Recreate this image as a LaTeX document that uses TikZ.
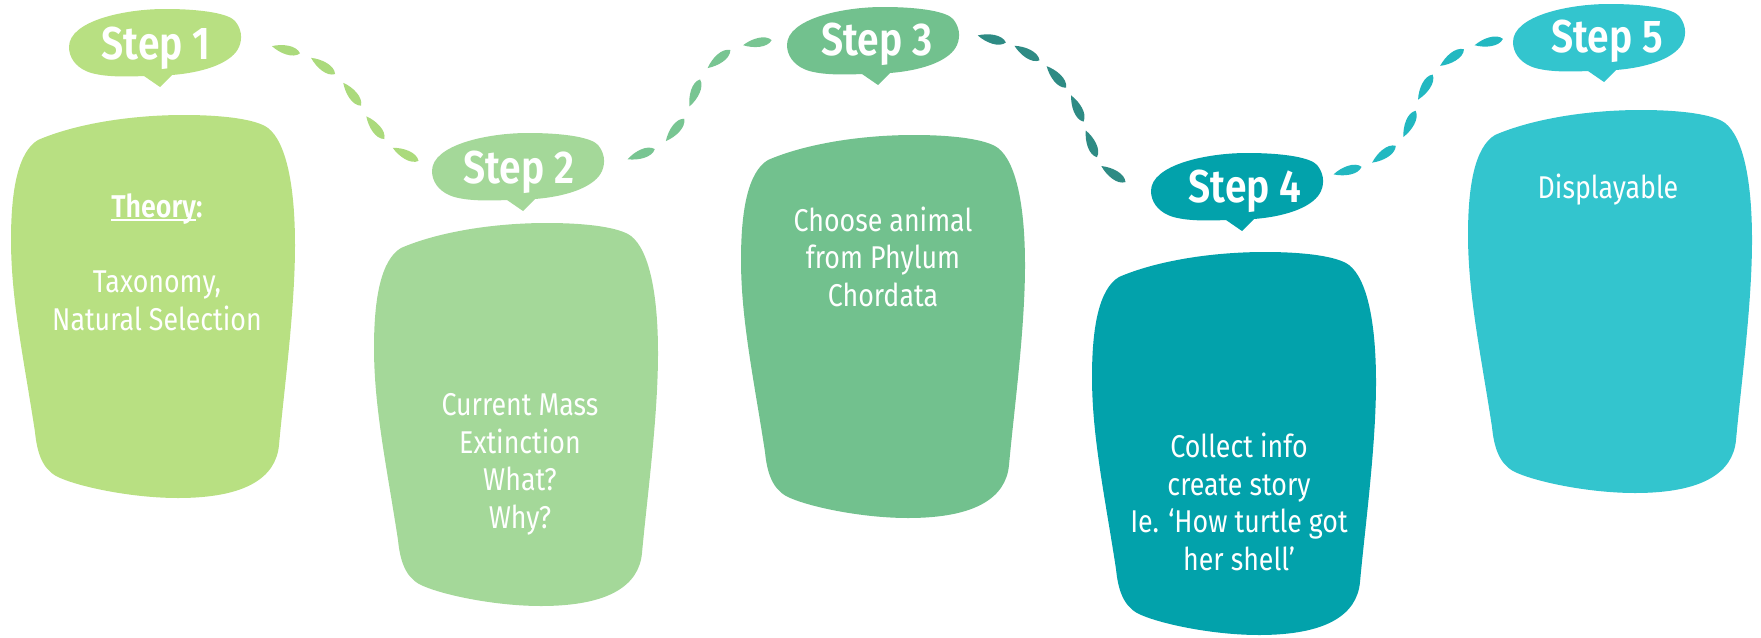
\documentclass[tikz,border=0pt]{standalone}
\usepackage{fontspec}
\setmainfont[FakeStretch=0.85, BoldFont={Fira Sans SemiBold}]{Fira Sans}
\usetikzlibrary{decorations.markings}
\definecolor{c1}{HTML}{B8E082}
\definecolor{c2}{HTML}{A4D899}
\definecolor{c3}{HTML}{72C18E}
\definecolor{c4}{HTML}{02A2AB}
\definecolor{c5}{HTML}{33C5CE}
\definecolor{d12}{HTML}{ABDA7C}
\definecolor{d23}{HTML}{78C592}
\definecolor{d34}{HTML}{2E8B84}
\definecolor{d45}{HTML}{22B8C1}
\newlength\ulwd
\newcommand\myul[1]{\settowidth{\ulwd}{#1}\rlap{\rule[-3.5pt]{\ulwd}{2.5pt}}#1}
\def\blobpath{(38,140) .. controls (75,124) and (130,115) .. (184,115) .. controls (222,115) and (256,119) .. (268,128) .. controls (286,142) and (295,185) .. (295,245) .. controls (295,310) and (284,390) .. (279,445) .. controls (276,478) and (245,498) .. (178,498) .. controls (130,498) and (75,486) .. (56,476) .. controls (42,468) and (37,452) .. (35,432) .. controls (24,360) and (11,300) .. (11,240) .. controls (11,190) and (18,152) .. (38,140) -- cycle}
\def\bubblepath{(0,38) .. controls (0,12) and (55,0) .. (96,0) .. controls (135,0) and (160,5) .. (166,12) .. controls (172,19) and (174,29) .. (170,38) .. controls (164,52) and (140,63) .. (103,66) -- (91,78) -- (75,67) .. controls (55,68) and (30,68) .. (17,62) .. controls (6,57) and (0,48) .. (0,38) -- cycle}
\begin{document}
\begin{tikzpicture}[x=1pt,y=-1pt,
  lbl/.style={font=\fontsize{46}{50}\selectfont\bfseries, text=white, inner sep=0pt, anchor=base},
  body/.style={font=\fontsize{31.5}{37.5}\selectfont, text=white, inner sep=0pt, align=center, anchor=base},
  leafdash/.style n args={3}{decoration={markings, mark=between positions 0.07 and #2 step #1 with {\fill[#3] (-14.5pt,0pt) .. controls (-5pt,5pt) and (9pt,7pt) .. (14.5pt,0pt) .. controls (9pt,-7pt) and (-5pt,-5pt) .. (-14.5pt,0pt) -- cycle;}}, decorate}]
\useasboundingbox (0,0) rectangle (1761,637);
% blobs
\fill[c1] \blobpath;
\fill[c2, shift={(363,108)}] \blobpath;
\fill[c3, shift={(730,20)}] \blobpath;
\fill[c4, shift={(1081,137)}] \blobpath;
\fill[c5, shift={(1457,-5)}] \blobpath;
% bubbles
\fill[c1, shift={(69,9)}] \bubblepath;
\fill[c2, shift={(432,133)}] \bubblepath;
\fill[c3, shift={(787,7)}] \bubblepath;
\fill[c4, shift={(1151,153)}] \bubblepath;
\fill[c5, shift={(1513,4)}] \bubblepath;
% labels
\node[lbl] (s1) at (156,59) {Step 1};
\node[lbl] (s2) at (519,183) {Step 2};
\node[lbl] (s3) at (877,55) {Step 3};
\node[lbl] (s4) at (1245,202) {Step 4};
\node[lbl] (s5) at (1607,52) {Step 5};
% body texts (anchor = baseline of last line)
\node[body] (b1) at (157,330) {\textbf{\myul{Theory}:}\\[37.5pt]Taxonomy,\\Natural Selection};
\node[body] (b2) at (520,528) {Current Mass\\Extinction\\What?\\Why?};
\node[body] (b3) at (883,306) {Choose animal\\from Phylum\\Chordata};
\node[body] (b4) at (1239,570) {Collect info\\create story\\Ie. ‘How turtle got\\her shell’};
\node[body] (b5) at (1608,198) {Displayable};
% connectors
\coordinate (a12) at (273,47);
\coordinate (e12) at (418,159);
\coordinate (a23) at (628,158);
\coordinate (e23) at (771,41);
\coordinate (a34) at (977,36);
\coordinate (e34) at (1123,179);
\coordinate (a45) at (1332,174);
\coordinate (e45) at (1500,40);
\path[leafdash={0.215}{0.94}{d12}] (a12) .. controls (320,55) and (340,78) .. (355,98) .. controls (372,125) and (390,152) .. (e12);
\path[leafdash={0.215}{0.94}{d23}] (a23) .. controls (665,150) and (683,125) .. (694,95) .. controls (705,65) and (728,44) .. (e23);
\path[leafdash={0.176}{0.95}{d34}] (a34) .. controls (1030,44) and (1062,75) .. (1078,110) .. controls (1092,142) and (1095,168) .. (e34);
\path[leafdash={0.176}{0.95}{d45}] (a45) .. controls (1378,166) and (1403,145) .. (1413,115) .. controls (1425,80) and (1445,48) .. (e45);
\end{tikzpicture}
\end{document}
